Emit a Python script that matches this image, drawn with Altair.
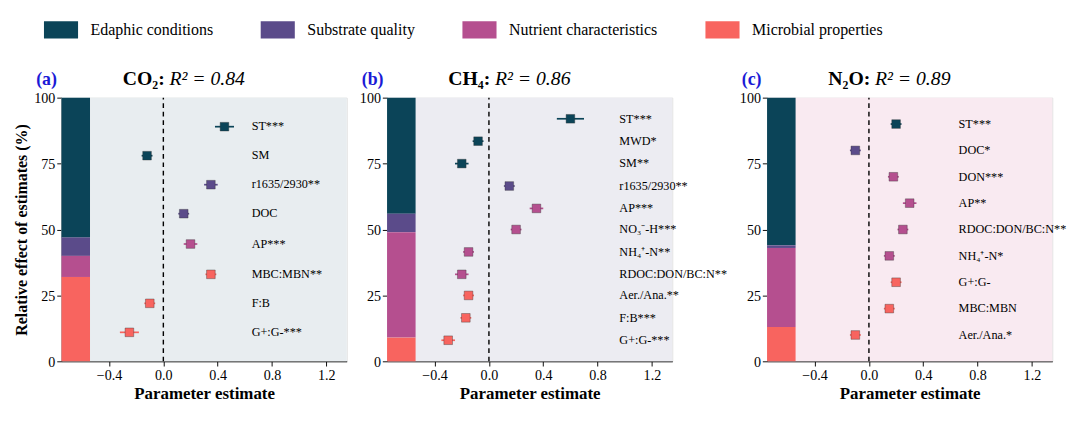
import altair as alt
import pandas as pd

groups = ["Edaphic conditions", "Substrate quality", "Nutrient characteristics", "Microbial properties"]
colors = ["#0b4458", "#5b4b8a", "#b54f8f", "#f8645f"]
FONT = "Liberation Serif"

# panel a
a_vars = ["ST***", "SM", "r1635/2930**", "DOC", "AP***", "MBC:MBN**", "F:B", "G+:G-***"]
a_grp = [0, 0, 1, 1, 2, 3, 3, 3]
a_est = [0.45, -0.12, 0.35, 0.15, 0.20, 0.35, -0.10, -0.25]
a_err = [0.07, 0.04, 0.05, 0.04, 0.05, 0.04, 0.04, 0.07]
a_y = [89, 78, 67, 56, 44.5, 33, 22, 11]
a_share = [53, 7, 8, 32]
# panel b
b_vars = ["ST***", "MWD*", "SM**", "r1635/2930**", "AP***", "NO₃⁻-H***", "NH₄⁺-N**",
          "RDOC:DON/BC:N**", "Aer./Ana.**", "F:B***", "G+:G-***"]
b_grp = [0, 0, 0, 1, 2, 2, 2, 2, 3, 3, 3]
b_est = [0.60, -0.08, -0.20, 0.15, 0.35, 0.20, -0.15, -0.20, -0.15, -0.17, -0.30]
b_err = [0.10, 0.04, 0.05, 0.04, 0.05, 0.04, 0.04, 0.05, 0.04, 0.04, 0.05]
b_y = [92, 83.5, 75, 66.5, 58, 50, 41.5, 33, 25, 16.5, 8]
b_share = [44, 7, 40, 9]
# panel c
c_vars = ["ST***", "DOC*", "DON***", "AP**", "RDOC:DON/BC:N**", "NH₄⁺-N*", "G+:G-", "MBC:MBN", "Aer./Ana.*"]
c_grp = [0, 1, 2, 2, 2, 2, 3, 3, 3]
c_est = [0.20, -0.10, 0.18, 0.30, 0.25, 0.15, 0.20, 0.15, -0.10]
c_err = [0.04, 0.04, 0.04, 0.05, 0.04, 0.04, 0.04, 0.04, 0.04]
c_y = [90, 80, 70, 60, 50, 40, 30, 20, 10]
c_share = [56, 1, 30, 13]

color_scale = alt.Scale(domain=groups, range=colors)
XD = [-0.75, 1.35]


def panel(tag, gas, r2, vars_, grp, est, err, ys, share, bg, labx, first):
    pts = pd.DataFrame({"var": vars_, "group": [groups[g] for g in grp], "est": est,
                        "lo": [e - s for e, s in zip(est, err)], "hi": [e + s for e, s in zip(est, err)],
                        "y": ys})
    bars = pd.DataFrame({"group": groups, "share": share, "ord": [4, 3, 2, 1]})
    xs = alt.Scale(domain=XD, nice=False, zero=False)
    ys_ = alt.Scale(domain=[0, 100], nice=False)
    xax = alt.Axis(values=[-0.4, 0, 0.4, 0.8, 1.2], format=".1f", grid=False, title="Parameter estimate",
                   titleFont=FONT, titleFontSize=18, titleFontWeight="bold", labelFont=FONT,
                   labelFontSize=15, labelColor="black", domainColor="black", tickColor="black")
    yax = alt.Axis(values=[0, 25, 50, 75, 100], grid=False,
                   title="Relative effect of estimates (%)" if first else None,
                   titleFont=FONT, titleFontSize=17, titleFontWeight="bold", labelFont=FONT,
                   labelFontSize=15, labelColor="black", domainColor="black", tickColor="black")
    base = alt.Chart(pts)
    bgr = alt.Chart(pd.DataFrame({"a": [0]})).mark_rect(color=bg).encode(
        x=alt.datum(XD[0], scale=xs, axis=xax), x2=alt.datum(XD[1]),
        y=alt.datum(0, scale=ys_, axis=yax), y2=alt.datum(100))
    bar = alt.Chart(bars).transform_stack(
        stack="share", groupby=[], sort=[alt.SortField("ord")], as_=["s0", "s1"]
    ).mark_rect().encode(
        x=alt.datum(-0.75), x2=alt.datum(-0.54),
        y=alt.Y("s0:Q"), y2="s1:Q",
        color=alt.Color("group:N", scale=color_scale, sort=groups,
                        legend=alt.Legend(title=None, orient="none", direction="horizontal",
                                          legendX=-10, legendY=-82, symbolType="M-2,-1H2V1H-2Z",
                                          symbolSize=330, symbolStrokeWidth=0, labelFont=FONT,
                                          labelFontSize=17, labelColor="black", columnPadding=50,
                                          labelOffset=22, symbolOpacity=1)))
    zero = alt.Chart(pd.DataFrame({"a": [0]})).mark_rule(strokeDash=[5, 4], color="black", strokeWidth=1.5).encode(
        x=alt.datum(0), y=alt.datum(0), y2=alt.datum(100))
    eb = base.mark_rule(strokeWidth=1.8).encode(x="lo:Q", x2="hi:Q", y="y:Q",
                                                 color=alt.Color("group:N", scale=color_scale, legend=None))
    pt = base.mark_square(size=85, opacity=1, stroke="#333", strokeWidth=0.4).encode(
        x="est:Q", y="y:Q", color=alt.Color("group:N", scale=color_scale, legend=None))
    lab = base.mark_text(align="left", font=FONT, fontSize=13, color="black").encode(
        x=alt.datum(labx), y="y:Q", text="var:N")
    t1 = alt.Chart(pd.DataFrame({"a": [0]})).mark_text(
        font=FONT, fontSize=19, fontWeight="bold", color="#1a1ad6", align="left").encode(
        x=alt.value(-27), y=alt.value(-20), text=alt.value(tag))
    t2 = alt.Chart(pd.DataFrame({"a": [0]})).mark_text(
        font=FONT, fontSize=21, fontWeight="bold", color="black", align="right").encode(
        x=alt.value(110), y=alt.value(-20), text=alt.value(gas + ":"))
    t3 = alt.Chart(pd.DataFrame({"a": [0]})).mark_text(
        font=FONT, fontSize=21, fontStyle="italic", color="black", align="left").encode(
        x=alt.value(115), y=alt.value(-20), text=alt.value(r2))
    layers = [bgr, bar, zero, eb, pt, lab, t1, t2, t3]
    return alt.layer(*layers).properties(width=304, height=281)


pa = panel("(a)", "CO₂", "R² = 0.84", a_vars, a_grp, a_est, a_err, a_y, a_share, "#e8edf0", 0.65, True)
pb = panel("(b)", "CH₄", "R² = 0.86", b_vars, b_grp, b_est, b_err, b_y, b_share, "#ececf2", 0.96, False)
pc = panel("(c)", "N₂O", "R² = 0.89", c_vars, c_grp, c_est, c_err, c_y, c_share, "#f9eaf1", 0.66, False)

chart = alt.hconcat(pa, pb, pc, spacing=12).resolve_scale(color="shared").properties(
    padding={"left": 5, "top": 0, "right": 5, "bottom": 5}
).configure_view(stroke=None).configure(background="white")

chart.save("out.html", embed_options={"renderer": "svg", "actions": False})
